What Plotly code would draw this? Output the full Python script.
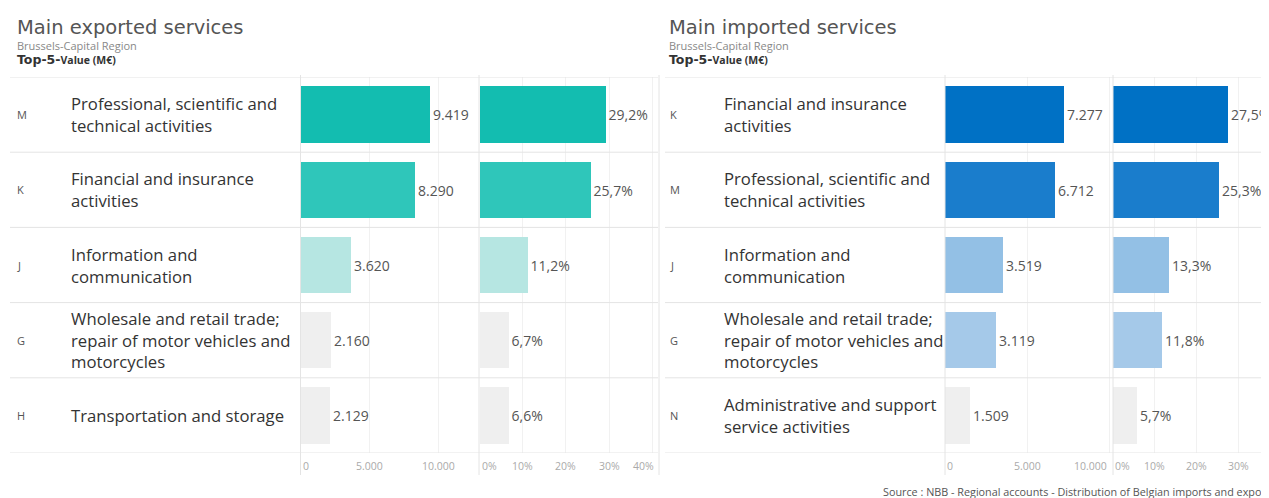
import plotly.graph_objects as go

W, H = 1269, 498
PAGE_OFFSET = 8  # default body margin of the html page

# --- data -------------------------------------------------------------
exp_codes = ["M", "K", "J", "G", "H"]
exp_labels = [
    "Professional, scientific and<br>technical activities",
    "Financial and insurance<br>activities",
    "Information and<br>communication",
    "Wholesale and retail trade;<br>repair of motor vehicles and<br>motorcycles",
    "Transportation and storage",
]
exp_values = [9419, 8290, 3620, 2160, 2129]
exp_shares = [29.2, 25.7, 11.2, 6.7, 6.6]
exp_colors = ["#13bdb0", "#2fc6ba", "#b6e6e2", "#efefef", "#efefef"]

imp_codes = ["K", "M", "J", "G", "N"]
imp_labels = [
    "Financial and insurance<br>activities",
    "Professional, scientific and<br>technical activities",
    "Information and<br>communication",
    "Wholesale and retail trade;<br>repair of motor vehicles and<br>motorcycles",
    "Administrative and support<br>service activities",
]
imp_values = [7277, 6712, 3519, 3119, 1509]
imp_shares = [27.5, 25.3, 13.3, 11.8, 5.7]
imp_colors = ["#0071c5", "#1a7dcc", "#93c0e5", "#a5c9e9", "#efefef"]

value_ticks = [0, 5000, 10000]
value_tick_text = ["0", "5.000", "10.000"]
exp_share_ticks = [0, 10, 20, 30, 40]
imp_share_ticks = [0, 10, 20, 30]


def px(x):
    return (x - PAGE_OFFSET) / W


def py(y):
    return 1 - (y - PAGE_OFFSET) / H


FONT = "Open Sans"
TOP, BOTTOM = 77, 453
ydom = [py(BOTTOM), py(TOP)]

fig = go.Figure()
annotations = []
shapes = []

# panels: (values, colors, axis suffix, domain in px, range, is share, ticks)
panels = [
    (exp_values, exp_colors, "", (301, 478), [0, 12900], False, value_ticks),
    (exp_shares, exp_colors, "2", (479.5, 658), [0, 41.3], True, exp_share_ticks),
    (imp_values, imp_colors, "3", (945, 1111), [0, 10120], False, value_ticks),
    (imp_shares, imp_colors, "4", (1113, 1269), [0, 37.2], True, imp_share_ticks),
]

for vals, cols, ax, dom, rng, is_share, ticks in panels:
    fig.add_trace(go.Bar(
        x=vals,
        y=list(range(len(vals))),
        orientation="h",
        marker=dict(color=cols, line=dict(width=0)),
        width=0.75,
        texttemplate="%{x:.1f}%" if is_share else "%{x:,.0f}",
        textposition="outside",
        textfont=dict(family=FONT, size=14, color="#555555"),
        cliponaxis=False,
        xaxis="x" + ax,
        yaxis="y" + ax,
        showlegend=False,
        hoverinfo="skip",
    ))
    fig.layout["xaxis" + ax] = dict(
        domain=[px(dom[0]), px(dom[1])],
        range=rng,
        tickmode="array",
        tickvals=ticks,
        showticklabels=False,
        showgrid=True,
        gridcolor="#f1f1f1",
        zeroline=False,
        showline=False,
        ticks="",
        automargin=False,
        anchor="y" + ax,
        fixedrange=True,
    )
    fig.layout["yaxis" + ax] = dict(
        domain=ydom,
        range=[4.5, -0.5],
        showticklabels=False,
        showgrid=False,
        zeroline=False,
        automargin=False,
        anchor="x" + ax,
        fixedrange=True,
    )

    # tick labels, kept inside the pane the way the original tool does
    texts = [f"{t}%" for t in ticks] if is_share else value_tick_text
    for t, txt in zip(ticks, texts):
        tick_px = dom[0] + t / rng[1] * (dom[1] - dom[0])
        half = len(txt) * 3.1
        lab = dict(y=py(466), yref="paper", text=txt, showarrow=False,
                   yanchor="middle",
                   font=dict(family=FONT, size=10.5, color="#aaaaaa"))
        if tick_px - half < dom[0]:
            lab.update(x=px(dom[0]), xref="paper", xanchor="left")
        elif tick_px + half > dom[1] - 1:
            lab.update(x=px(dom[1] - 2), xref="paper", xanchor="right")
        else:
            lab.update(x=t, xref="x" + ax, xanchor="center")
        annotations.append(lab)

# row text: code letter + description
for codes, labels, code_x, lab_x in [
    (exp_codes, exp_labels, 15, 69),
    (imp_codes, imp_labels, 668, 722),
]:
    for i, (c, lab) in enumerate(zip(codes, labels)):
        annotations.append(dict(
            x=px(code_x), xref="paper", y=i, yref="y", text=c,
            showarrow=False, xanchor="left", yanchor="middle",
            font=dict(family=FONT, size=11, color="#555555"),
        ))
        annotations.append(dict(
            x=px(lab_x), xref="paper", y=i, yref="y", text=lab,
            showarrow=False, xanchor="left", yanchor="middle", align="left",
            font=dict(family=FONT, size=16.7, color="#333333"),
        ))

# row separators
for x0, x1 in [(10, 658), (665, 1269)]:
    for i in range(len(exp_codes) + 1):
        shapes.append(dict(
            type="line", xref="paper", yref="y", x0=px(x0), x1=px(x1),
            y0=i - 0.5, y1=i - 0.5, line=dict(color="#e4e4e4", width=1),
        ))

# vertical dividers
for xv in [300.5, 479, 659, 945, 1113]:
    shapes.append(dict(
        type="line", xref="paper", yref="paper", x0=px(xv), x1=px(xv),
        y0=py(475), y1=py(TOP - 2), line=dict(color="#e4e4e4", width=1),
    ))

# titles
for x0, title in [(15, "Main exported services"), (667, "Main imported services")]:
    annotations.append(dict(
        x=px(x0), y=py(27), xref="paper", yref="paper", text=title,
        showarrow=False, xanchor="left", yanchor="middle",
        font=dict(family="DejaVu Sans", size=19.5, color="#555555"),
    ))
    annotations.append(dict(
        x=px(x0), y=py(45), xref="paper", yref="paper", text="Brussels-Capital Region",
        showarrow=False, xanchor="left", yanchor="middle",
        font=dict(family=FONT, size=11, color="#888888"),
    ))
    annotations.append(dict(
        x=px(x0), y=py(60), xref="paper", yref="paper",
        text="<b>Top-5-<span style='font-family:Open Sans;font-size:10.5px'>Value (M€)</span></b>",
        showarrow=False, xanchor="left", yanchor="middle",
        font=dict(family="DejaVu Sans", size=12.5, color="#333333"),
    ))

annotations.append(dict(
    x=px(881), y=py(491), xref="paper", yref="paper",
    text="Source : NBB - Regional accounts - Distribution of Belgian imports and exports of services",
    showarrow=False, xanchor="left", yanchor="middle",
    font=dict(family=FONT, size=10.8, color="#555555"),
))

fig.update_layout(
    template="none",
    width=W,
    height=H,
    autosize=False,
    margin=dict(l=0, r=0, t=0, b=0, pad=0),
    paper_bgcolor="white",
    plot_bgcolor="white",
    separators=",.",
    bargap=0,
    annotations=annotations,
    shapes=shapes,
)

fig.write_html("out.html")
